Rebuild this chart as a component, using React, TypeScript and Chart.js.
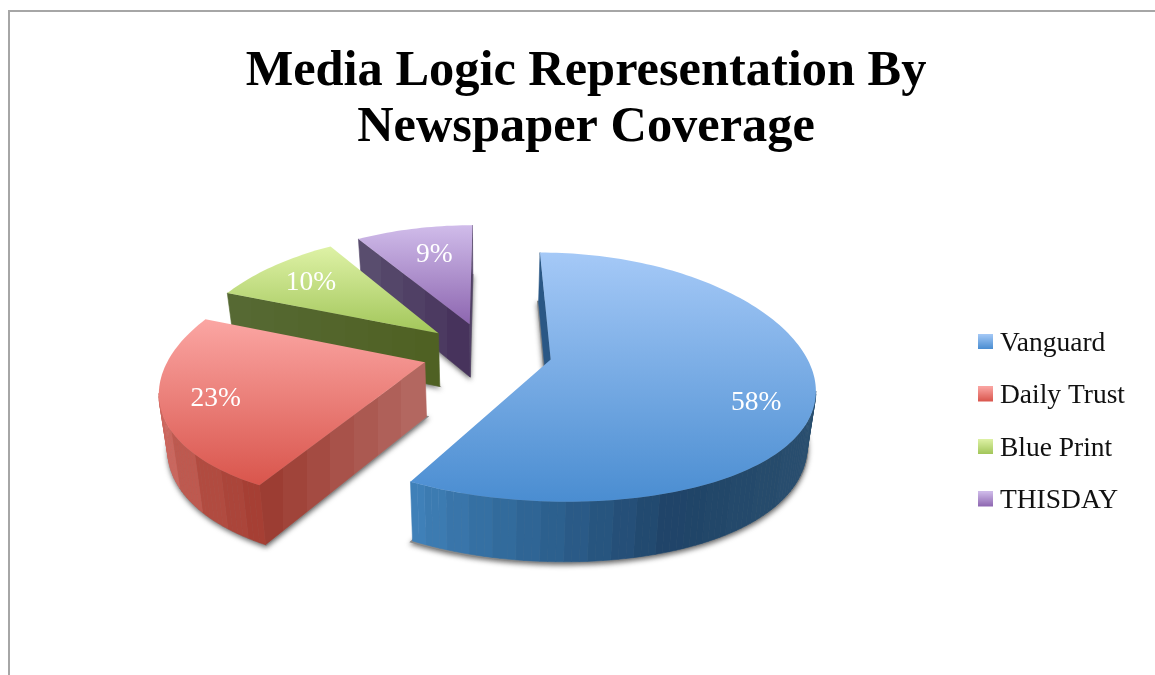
import React, { useEffect, useRef } from "react";
import { Chart, registerables } from "chart.js";

Chart.register(...registerables);

const categories = ["Vanguard", "Daily Trust", "Blue Print", "THISDAY"];
const shares = [58, 23, 10, 9];

const titleLines = ["Media Logic Representation By", "Newspaper Coverage"];

const topColors = [
  ["#a5c9f7", "#4a8dd1"],
  ["#fba6a3", "#d9554c"],
  ["#def2a6", "#a2c65a"],
  ["#d0bcea", "#8d66b0"],
];
const rimColors = [
  ["#3f80b8", "#2d6291", "#1f4367", "#2a4f6f"],
  ["#cb675e", "#b04a3f", "#a53e33"],
  ["#566b33", "#566b33"],
  ["#473159", "#473159"],
];
const faceColors = [
  ["#2f5f8f", "#254f7a"],
  ["#9a3a2f", "#b56a64"],
  ["#566934", "#4f6022"],
  ["#5b5070", "#45305a"],
];

// Placement of each percentage inside its wedge: share of the sweep, share of the radius.
const labelSweep = [0.55, 0.49, 0.48, 0.56];
const labelReach = [0.8, 0.8, 0.74, 0.69];

const SERIF = '"Liberation Serif", serif';

// Camera for the tilted pie plane (canvas coordinates).
const CANVAS_LEFT = 17;
const view = { cx: 470, cy: 352, rx: 261, ry: 120, gainX: 0.2, gainY: 0.14, sideRight: 0.019, sideLeft: 0.02, burst: 0.25 };

type Pt = { x: number; y: number; w: number };

const project = (u: number, v: number): Pt => {
  const side = u >= 0 ? view.sideRight * u : -view.sideLeft * u;
  const wx = 1 - view.gainX * v + side;
  const wy = 1 - view.gainY * v;
  return { x: view.cx + (view.rx * u) / wx, y: view.cy + (view.ry * v) / wy, w: wy };
};

// Same point on the underside of the slab.
const drop = (p: Pt): Pt => ({
  x: p.x + (view.cx - p.x) * 0.027,
  y: p.y + 54 + 35 * (1 / p.w - 1),
  w: p.w,
});

const mix = (a: string, b: string, t: number) => {
  const n = (s: string, i: number) => parseInt(s.slice(i, i + 2), 16);
  const c = [1, 3, 5].map((i) => Math.round(n(a, i) + (n(b, i) - n(a, i)) * t));
  return `rgb(${c[0]},${c[1]},${c[2]})`;
};

const pickAlong = (stops: string[], t: number) => {
  if (stops.length < 2) return stops[0];
  const s = Math.min(0.9999, Math.max(0, t)) * (stops.length - 1);
  const i = Math.floor(s);
  return mix(stops[i], stops[i + 1], s - i);
};

const wedgeOutline = (start: number, end: number) => {
  // Angles measured clockwise from twelve o'clock.
  const mid = (start + end) / 2;
  const ou = Math.sin(mid) * view.burst;
  const ov = -Math.cos(mid) * view.burst;
  const pts: Pt[] = [project(ou, ov)];
  const steps = Math.max(6, Math.round((end - start) * 40));
  for (let i = 0; i <= steps; i++) {
    const a = start + ((end - start) * i) / steps;
    pts.push(project(ou + Math.sin(a), ov - Math.cos(a)));
  }
  return { pts, ou, ov, mid };
};

const trace = (ctx: CanvasRenderingContext2D, pts: { x: number; y: number }[]) => {
  ctx.beginPath();
  pts.forEach((p, i) => (i ? ctx.lineTo(p.x, p.y) : ctx.moveTo(p.x, p.y)));
  ctx.closePath();
};

const pieSlab = {
  id: "pieSlab",
  beforeDatasetsDraw(chart: Chart) {
    const { ctx } = chart;
    const arcs = chart.getDatasetMeta(0).data as any[];
    const wedges = arcs.map((arc) =>
      wedgeOutline(arc.startAngle + Math.PI / 2, arc.endAngle + Math.PI / 2)
    );

    // Soft contact shadow under every slab.
    wedges.forEach(({ pts }) => {
      const under = pts.map(drop);
      const gx = under.reduce((s, p) => s + p.x, 0) / under.length;
      const gy = under.reduce((s, p) => s + p.y, 0) / under.length;
      ctx.save();
      ctx.shadowColor = "rgba(40,40,40,0.65)";
      ctx.shadowBlur = 5;
      ctx.shadowOffsetY = 2;
      ctx.fillStyle = "#8a8a8a";
      trace(ctx, under.map((p) => ({ x: gx + (p.x - gx) * 1.012, y: gy + (p.y - gy) * 1.012 })));
      ctx.fill();
      ctx.restore();
    });

    for (let i = wedges.length - 1; i >= 0; i--) {
      const { pts } = wedges[i];
      const n = pts.length;
      const xs = pts.slice(1).map((p) => p.x);
      const minX = Math.min(...xs);
      const maxX = Math.max(...xs);

      for (let e = 0; e < n; e++) {
        const a = pts[e];
        const b = pts[(e + 1) % n];
        if (b.x >= a.x) continue; // back-facing wall
        const isFace = e === 0 || e === n - 1;
        const quad = [a, b, drop(b), drop(a)];
        if (isFace) {
          const g = ctx.createLinearGradient(Math.min(a.x, b.x), 0, Math.max(a.x, b.x), 0);
          const stops = faceColors[i];
          const span = Math.max(a.x, b.x) - Math.min(a.x, b.x);
          const bands = Math.max(1, Math.round(span / 24));
          for (let k = 0; k < bands; k++) {
            const c = pickAlong(stops, (k + 0.5) / bands);
            g.addColorStop(k / bands, c);
            g.addColorStop((k + 1) / bands, c);
          }
          ctx.fillStyle = g;
        } else {
          const mx = (a.x + b.x) / 2;
          const band = Math.round((mx - minX) / 24) * 24;
          ctx.fillStyle = pickAlong(rimColors[i], band / (maxX - minX || 1));
        }
        trace(ctx, quad);
        ctx.fill();
        ctx.strokeStyle = ctx.fillStyle;
        ctx.lineWidth = 0.6;
        ctx.stroke();
      }

      const ys = pts.map((p) => p.y);
      const sheen = ctx.createLinearGradient(0, Math.min(...ys), 0, Math.max(...ys));
      sheen.addColorStop(0, topColors[i][0]);
      sheen.addColorStop(1, topColors[i][1]);
      ctx.fillStyle = sheen;
      trace(ctx, pts);
      ctx.fill();
    }

    // Percentages sit on the top faces.
    ctx.save();
    ctx.fillStyle = "#ffffff";
    ctx.font = `27.5px ${SERIF}`;
    ctx.textAlign = "center";
    ctx.textBaseline = "middle";
    wedges.forEach(({ ou, ov }, i) => {
      const arc = arcs[i];
      const s = arc.startAngle + Math.PI / 2;
      const e = arc.endAngle + Math.PI / 2;
      const a = s + (e - s) * labelSweep[i];
      const p = project(ou + Math.sin(a) * labelReach[i], ov - Math.cos(a) * labelReach[i]);
      ctx.fillText(`${shares[i]}%`, p.x, p.y);
    });
    ctx.restore();
    return false;
  },
};

// Legend marker: a 15px gradient square, with clear space below it to lift it level with the text.
const swatch = (colors: string[]) => {
  const c = document.createElement("canvas");
  c.width = 15;
  c.height = 19;
  const g = c.getContext("2d")!;
  const fill = g.createLinearGradient(0, 0, 0, 15);
  fill.addColorStop(0, colors[0]);
  fill.addColorStop(1, colors[1]);
  g.fillStyle = fill;
  g.fillRect(0, 0, 15, 15);
  return c;
};

export default function App() {
  const ref = useRef<HTMLCanvasElement>(null);
  useEffect(() => {
    const chart = new Chart(ref.current!, {
      type: "pie",
      plugins: [pieSlab],
      data: {
        labels: categories,
        datasets: [{ data: shares, backgroundColor: topColors.map((c) => c[1]) }],
      },
      options: {
        responsive: false,
        animation: false,
        layout: { padding: { left: 20, right: 20, top: 0, bottom: 0 } },
        plugins: {
          tooltip: { enabled: false },
          title: {
            display: true,
            text: titleLines,
            color: "#000000",
            font: { family: SERIF, size: 50.4, weight: "bold", lineHeight: 1.115 },
            padding: { top: 44, bottom: 13 },
          },
          legend: {
            position: "right",
            fullSize: false,
            labels: {
              color: "#111111",
              font: { family: SERIF, size: 27.5 },
              usePointStyle: true,
              boxWidth: 1,
              boxHeight: 15,
              padding: 25,
              generateLabels: () =>
                categories.map((text, i) => ({
                  text,
                  datasetIndex: 0,
                  index: i,
                  fontColor: "#111111",
                  pointStyle: swatch(topColors[i]),
                })),
            },
          },
        },
      },
    } as any);
    return () => chart.destroy();
  }, []);
  return (
    <div style={{ position: "absolute", left: 0, top: 0, width: 1155, height: 675, background: "#fff", overflow: "hidden" }}>
      <div
        style={{
          position: "absolute",
          left: 8,
          top: 10,
          width: 1147,
          height: 665,
          boxSizing: "border-box",
          borderTop: "2px solid #a6a6a6",
          borderLeft: "2px solid #a6a6a6",
        }}
      />
      <canvas
        ref={ref}
        width={1155 - CANVAS_LEFT}
        height={675}
        style={{ display: "block", position: "absolute", left: CANVAS_LEFT, top: 0 }}
      />
    </div>
  );
}
